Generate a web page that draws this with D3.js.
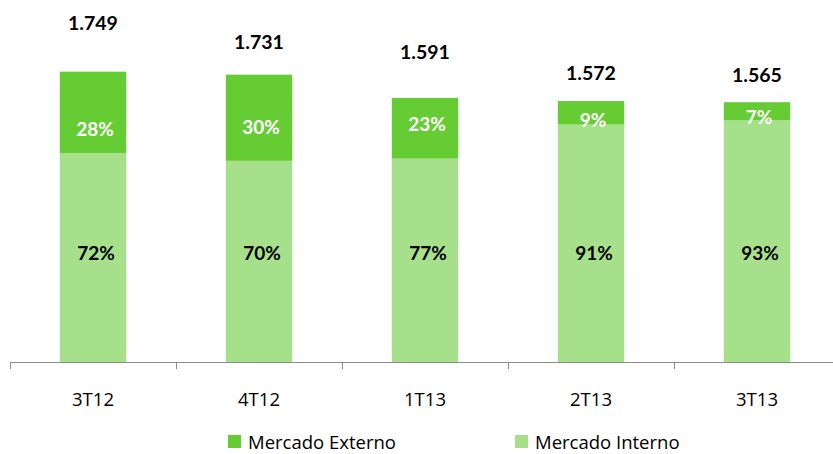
<!DOCTYPE html>
<html>
<head>
<meta charset="utf-8">
<script src="https://cdn.jsdelivr.net/npm/d3@7"></script>
<style>
  body { margin: 0; background: #fff; }
  svg { display: block; font-family: Lato, "Open Sans", sans-serif; }
  .reg { font-family: "Open Sans", sans-serif; }
</style>
</head>
<body>
<svg id="chart" width="833" height="454"></svg>
<script>
// chart values
const categories = ['3T12', '4T12', '1T13', '2T13', '3T13'];
const totals = [1.749, 1.731, 1.591, 1.572, 1.565];
const externoPct = [28, 30, 23, 9, 7];
const internoPct = [72, 70, 77, 91, 93];
const seriesNames = ['Mercado Externo', 'Mercado Interno'];

// label nudges (px), the source places labels by hand
const totalGap = [48, 32, 46, 28, 27];
const externoNudge = [17, 10, -4, 8, 6];

const colors = { externo: '#66CC33', interno: '#A6E08A' };

const svg = d3.select('#chart');
const left = 10, right = 840, baseY = 362;

const x = d3.scaleBand()
	.domain(categories)
	.range([left, right])
	.paddingInner(0.6)
	.paddingOuter(0.3);

const xEdge = d3.scaleBand().domain(categories).range([left, right]);

const y = d3.scaleLinear().domain([0, 2]).range([baseY, 30]);

const rows = categories.map((c, i) => ({
	cat: c,
	interno: totals[i] * internoPct[i] / 100,
	externo: totals[i] * externoPct[i] / 100
}));

const stack = d3.stack().keys(['interno', 'externo']);
const layers = stack(rows);

svg.append('g').selectAll('g')
	.data(layers)
	.join('g')
	.attr('fill', d => colors[d.key])
	.selectAll('rect')
	.data(d => d)
	.join('rect')
	.attr('x', d => x(d.data.cat))
	.attr('width', x.bandwidth())
	.attr('y', d => y(d[1]))
	.attr('height', d => y(d[0]) - y(d[1]));

// axis line and boundary ticks
const axis = svg.append('g').attr('stroke', '#8c8c8c').attr('stroke-width', 1);
axis.append('line')
	.attr('x1', left).attr('x2', 833)
	.attr('y1', baseY + 0.5).attr('y2', baseY + 0.5);
axis.selectAll('.tick')
	.data(categories)
	.join('line')
	.attr('x1', d => Math.round(xEdge(d)) + 0.5)
	.attr('x2', d => Math.round(xEdge(d)) + 0.5)
	.attr('y1', baseY)
	.attr('y2', baseY + 7);

svg.append('g').selectAll('text')
	.data(categories)
	.join('text')
	.attr('class', 'reg')
	.attr('x', d => x(d) + x.bandwidth() / 2)
	.attr('y', 406)
	.attr('text-anchor', 'middle')
	.attr('font-size', 18.5)
	.attr('fill', '#000')
	.text(d => d);

const fmt = d3.format('.3f');

// totals above bars
svg.append('g').selectAll('text')
	.data(rows)
	.join('text')
	.attr('x', d => x(d.cat) + x.bandwidth() / 2)
	.attr('y', (d, i) => y(totals[i]) - totalGap[i])
	.attr('dy', '0.35em')
	.attr('text-anchor', 'middle')
	.attr('font-size', 19.5)
	.attr('font-weight', 'bold')
	.attr('fill', '#000')
	.text((d, i) => fmt(totals[i]));

// externo %
svg.append('g').selectAll('text')
	.data(layers[1])
	.join('text')
	.attr('x', d => x(d.data.cat) + x.bandwidth() / 2 + 2)
	.attr('y', (d, i) => (y(d[0]) + y(d[1])) / 2 + externoNudge[i])
	.attr('dy', '0.35em')
	.attr('text-anchor', 'middle')
	.attr('font-size', 19)
	.attr('font-weight', 'bold')
	.attr('fill', '#fff')
	.text((d, i) => externoPct[i] + '%');

// interno %
svg.append('g').selectAll('text')
	.data(layers[0])
	.join('text')
	.attr('x', d => x(d.data.cat) + x.bandwidth() / 2 + 3)
	.attr('y', 253)
	.attr('dy', '0.35em')
	.attr('text-anchor', 'middle')
	.attr('font-size', 19)
	.attr('font-weight', 'bold')
	.attr('fill', '#000')
	.text((d, i) => internoPct[i] + '%');

// legend
const legendX = [228, 515];
const legend = svg.append('g').selectAll('g')
	.data(seriesNames)
	.join('g')
	.attr('transform', (d, i) => `translate(${legendX[i]},435)`);
legend.append('rect')
	.attr('width', 13).attr('height', 13)
	.attr('fill', (d, i) => i === 0 ? colors.externo : colors.interno);
legend.append('text')
	.attr('class', 'reg')
	.attr('x', 20)
	.attr('y', 13.5)
	.attr('font-size', 18.5)
	.attr('fill', '#000')
	.text(d => d);
</script>
</body>
</html>
